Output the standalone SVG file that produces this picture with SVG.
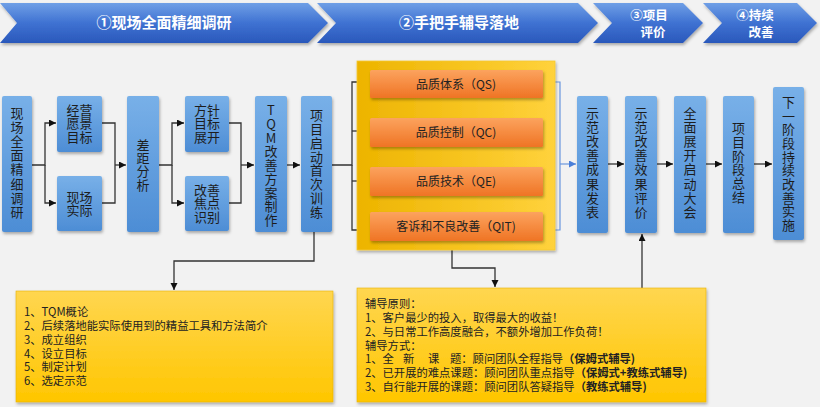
<svg xmlns="http://www.w3.org/2000/svg" width="820" height="407" viewBox="0 0 820 407">
<defs>
<linearGradient id="gBan" x1="0" y1="0" x2="0" y2="1">
<stop offset="0" stop-color="#6f9fe6"/><stop offset="0.5" stop-color="#3f72d2"/><stop offset="1" stop-color="#2a58bb"/>
</linearGradient>
<linearGradient id="gNode" x1="0" y1="0" x2="0" y2="1">
<stop offset="0" stop-color="#78b0e8"/><stop offset="1" stop-color="#4d8dd5"/>
</linearGradient>
<linearGradient id="gPanel" x1="0" y1="0" x2="1" y2="0">
<stop offset="0" stop-color="#edb400"/><stop offset="1" stop-color="#ffd23c"/>
</linearGradient>
<linearGradient id="gOrange" x1="0" y1="0" x2="0" y2="1">
<stop offset="0" stop-color="#fca35e"/><stop offset="1" stop-color="#ef7424"/>
</linearGradient>
<linearGradient id="gNote" x1="0" y1="0" x2="0" y2="1">
<stop offset="0" stop-color="#ffd650"/><stop offset="1" stop-color="#ffc600"/>
</linearGradient>
<filter id="sh" x="-20%" y="-20%" width="140%" height="140%">
<feDropShadow dx="1" dy="2" stdDeviation="1.5" flood-color="#000" flood-opacity="0.3"/>
</filter>
<marker id="arr" markerUnits="userSpaceOnUse" markerWidth="8" markerHeight="8" refX="7" refY="3.5" orient="auto">
<path d="M0,0 L7,3.5 L0,7 z" fill="#111"/>
</marker>
<marker id="arrB" markerUnits="userSpaceOnUse" markerWidth="8" markerHeight="8" refX="7" refY="3.5" orient="auto">
<path d="M0,0 L7,3.5 L0,7 z" fill="#4a7fd8"/>
</marker>
</defs>
<style>
text{font-family:"Noto Sans CJK SC","Liberation Sans",sans-serif;}
.ban{fill:url(#gBan);filter:url(#sh);}
.bt{fill:#fff;font-weight:bold;text-anchor:middle;}
.node{fill:url(#gNode);filter:url(#sh);}
.nt{font-size:13px;fill:#1d1d1d;text-anchor:middle;}
.vt{font-size:13px;fill:#1d1d1d;text-anchor:middle;writing-mode:vertical-rl;text-orientation:upright;}
.ob{fill:url(#gOrange);filter:url(#sh);}
.ot{font-size:12px;fill:#222;text-anchor:middle;}
.note{fill:url(#gNote);stroke:#e8b200;stroke-width:0.6;filter:url(#sh);}
.tt{font-size:11.3px;fill:#222;}
.c{fill:none;stroke:#333;stroke-width:1.3;}
.cb{fill:none;stroke:#6a96de;stroke-width:1.2;}
</style>
<rect x="0" y="0" width="820" height="407" fill="#f2f2f2"/>

<g id="banner1"><polygon class="ban" points="0,3 308,3 328,23 308,43 0,43 17,23"/><text class="bt" x="164" y="28" font-size="15">①现场全面精细调研</text></g>
<g id="banner2"><polygon class="ban" points="317,3 578,3 598,23 578,43 317,43 336,23"/><text class="bt" x="459" y="28" font-size="15">②手把手辅导落地</text></g>
<g id="banner3"><polygon class="ban" points="593,3 683,3 703,23 683,43 593,43 612,23"/><text class="bt" font-size="12.5"><tspan x="649" y="19.5">③项目</tspan><tspan x="653" y="36.5">评价</tspan></text></g>
<g id="banner4"><polygon class="ban" points="703,3 797,3 817,23 797,43 703,43 722,23"/><text class="bt" font-size="12.5"><tspan x="755" y="19.5">④持续</tspan><tspan x="761" y="36.5">改善</tspan></text></g>

<g id="connectors">
<path class="c" d="M32,165 H45 V123 H56" marker-end="url(#arr)"/>
<path class="c" d="M45,165 V203 H56" marker-end="url(#arr)"/>
<path class="c" d="M102,123 H115 V203 H102"/>
<path class="c" d="M115,165 H126" marker-end="url(#arr)"/>
<path class="c" d="M159,165 H172 V123 H184" marker-end="url(#arr)"/>
<path class="c" d="M172,165 V203 H184" marker-end="url(#arr)"/>
<path class="c" d="M229,123 H241 V203 H229"/>
<path class="c" d="M241,165 H254" marker-end="url(#arr)"/>
<path class="c" d="M287,165 H300" marker-end="url(#arr)"/>
<path class="c" d="M332,165 H352 V82 H369" marker-end="url(#arr)"/>
<path class="c" d="M352,131 H369" marker-end="url(#arr)"/>
<path class="c" d="M352,181 H369" marker-end="url(#arr)"/>
<path class="c" d="M352,165 V230 H369" marker-end="url(#arr)"/>
<path class="cb" d="M543,82 H560 V230 H543"/>
<path class="cb" d="M560,164 H576" marker-end="url(#arrB)"/>
<path class="c" d="M608,164 H624" marker-end="url(#arr)"/>
<path class="c" d="M657,164 H673" marker-end="url(#arr)"/>
<path class="c" d="M706,164 H722" marker-end="url(#arr)"/>
<path class="c" d="M754,164 H772" marker-end="url(#arr)"/>
<path class="c" d="M314,232 V261 H174 V290" marker-end="url(#arr)"/>
<path class="c" d="M452,250 V268 H495 V287" marker-end="url(#arr)"/>
<path class="c" d="M642,289 V234" marker-end="url(#arr)"/>
</g>

<g id="n1"><rect class="node" x="2" y="96" width="30" height="136" rx="2"/>
<text class="vt" x="17" y="163" letter-spacing="1.1">现场全面精细调研</text></g>
<g id="n2"><rect class="node" x="57" y="96" width="45" height="56" rx="2"/>
<text class="nt"><tspan x="79.5" y="114.5">经营</tspan><tspan x="79.5" y="128">愿景</tspan><tspan x="79.5" y="141.5">目标</tspan></text></g>
<g id="n3"><rect class="node" x="57" y="176" width="45" height="55" rx="2"/>
<text class="nt"><tspan x="79.5" y="201.5">现场</tspan><tspan x="79.5" y="215">实际</tspan></text></g>
<g id="n4"><rect class="node" x="127" y="96" width="32" height="136" rx="2"/>
<text class="vt" x="143" y="165" letter-spacing="0.3">差距分析</text></g>
<g id="n5"><rect class="node" x="185" y="96" width="44" height="56" rx="2"/>
<text class="nt"><tspan x="207" y="114.5">方针</tspan><tspan x="207" y="128">目标</tspan><tspan x="207" y="141.5">展开</tspan></text></g>
<g id="n6"><rect class="node" x="185" y="176" width="44" height="55" rx="2"/>
<text class="nt"><tspan x="207" y="194.5">改善</tspan><tspan x="207" y="208">焦点</tspan><tspan x="207" y="221.5">识别</tspan></text></g>
<g id="n7"><rect class="node" x="255" y="96" width="32" height="136" rx="2"/>
<text class="vt" x="271" y="165.5" letter-spacing="0.75">TQM改善方案制作</text></g>
<g id="n8"><rect class="node" x="301" y="96" width="31" height="136" rx="2"/>
<text class="vt" x="316.5" y="164" letter-spacing="0.86">项目启动首次训练</text></g>

<g id="panel"><rect x="357" y="61" width="198" height="189" fill="url(#gPanel)" stroke="#f5c830" stroke-width="0.8" filter="url(#sh)"/></g>
<g id="qs"><rect class="ob" x="370" y="70" width="173" height="28" rx="1.5"/><text class="ot" x="456" y="89">品质体系（QS)</text></g>
<g id="qc"><rect class="ob" x="370" y="118" width="173" height="29" rx="1.5"/><text class="ot" x="456" y="136.5">品质控制（QC)</text></g>
<g id="qe"><rect class="ob" x="370" y="167" width="173" height="29" rx="1.5"/><text class="ot" x="456" y="186">品质技术（QE)</text></g>
<g id="qit"><rect class="ob" x="370" y="212" width="173" height="29" rx="1.5"/><text class="ot" x="456" y="231">客诉和不良改善（QIT)</text></g>

<g id="r1"><rect class="node" x="577" y="96" width="31" height="137" rx="2"/>
<text class="vt" x="592.5" y="163" letter-spacing="1.1">示范改善成果发表</text></g>
<g id="r2"><rect class="node" x="625" y="96" width="32" height="137" rx="2"/>
<text class="vt" x="641" y="163" letter-spacing="1.1">示范改善效果评价</text></g>
<g id="r3"><rect class="node" x="674" y="96" width="32" height="137" rx="2"/>
<text class="vt" x="690" y="163" letter-spacing="1.1">全面展开启动大会</text></g>
<g id="r4"><rect class="node" x="723" y="96" width="31" height="137" rx="2"/>
<text class="vt" x="738.5" y="163" letter-spacing="0.8">项目阶段总结</text></g>
<g id="r5"><rect class="node" x="773" y="87" width="31" height="153" rx="2"/>
<text class="vt" x="788.5" y="164" letter-spacing="0.67">下一阶段持续改善实施</text></g>

<g id="note1"><rect class="note" x="16" y="291" width="317" height="111"/>
<text class="tt"><tspan x="24" y="316">1、TQM概论</tspan><tspan x="24" y="330">2、后续落地能实际使用到的精益工具和方法简介</tspan><tspan x="24" y="344">3、成立组织</tspan><tspan x="24" y="357.5">4、设立目标</tspan><tspan x="24" y="371">5、制定计划</tspan><tspan x="24" y="384.5">6、选定示范</tspan></text></g>

<g id="note2"><rect class="note" x="357" y="288" width="349" height="114"/>
<text class="tt"><tspan x="365" y="308">辅导原则：</tspan><tspan x="365" y="321.5">1、客户最少的投入，取得最大的收益！</tspan><tspan x="365" y="336">2、与日常工作高度融合，不额外增加工作负荷！</tspan><tspan x="365" y="349.5">辅导方式：</tspan></text>
<text class="tt"><tspan x="365" y="363">1、全</tspan><tspan x="403" y="363">新</tspan><tspan x="428" y="363">课</tspan><tspan x="450" y="363">题：顾问团队全程指导</tspan><tspan font-weight="bold">（保姆式辅导)</tspan></text>
<text class="tt"><tspan x="365" y="377">2、已开展的难点课题：顾问团队重点指导</tspan><tspan font-weight="bold">（保姆式+教练式辅导)</tspan></text>
<text class="tt"><tspan x="365" y="391">3、自行能开展的课题：顾问团队答疑指导</tspan><tspan font-weight="bold">（教练式辅导)</tspan></text></g>
</svg>
